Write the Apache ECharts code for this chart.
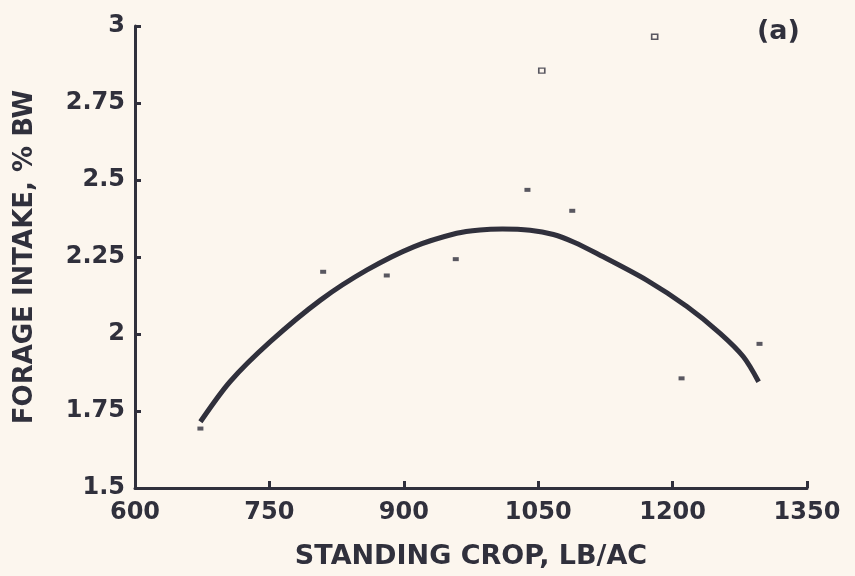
<!DOCTYPE html>
<html>
<head>
<meta charset="utf-8">
<script src="https://cdn.jsdelivr.net/npm/echarts@6/dist/echarts.min.js"></script>
<style>
html,body{margin:0;padding:0;background:#fcf6ee;}
#chart{width:855px;height:576px;}
</style>
</head>
<body>
<div id="chart"></div>
<script>
// Observed data (filled squares)
const filledX = [673, 810, 881, 958, 1038, 1088, 1210, 1297];
const filledY = [1.693, 2.202, 2.19, 2.243, 2.468, 2.40, 1.856, 1.968];
// Open squares
const openX = [1054, 1180];
const openY = [2.855, 2.965];
// Fitted curve
const curveX = [673, 706, 751, 807, 859, 911, 959, 985, 1010, 1041, 1067, 1090, 1115, 1171, 1216, 1253, 1279, 1296];
const curveY = [1.715, 1.845, 1.975, 2.110, 2.208, 2.283, 2.327, 2.338, 2.341, 2.337, 2.323, 2.298, 2.262, 2.175, 2.089, 2.002, 1.926, 1.845];
// Tick labels
const xTicks = ['600', '750', '900', '1050', '1200', '1350'];
const yTicks = ['1.5', '1.75', '2', '2.25', '2.5', '2.75', '3'];
const xTitle = 'STANDING CROP, LB/AC';
const yTitle = 'FORAGE INTAKE, % BW';
const panelLabel = '(a)';

const ink = '#30303c';
const font = 'DejaVu Sans';

const chart = echarts.init(document.getElementById('chart'));
chart.setOption({
  backgroundColor: '#fcf6ee',
  animation: false,
  grid: { left: 135, right: 48, top: 26, bottom: 88, containLabel: false },
  xAxis: {
    type: 'value', min: 600, max: 1350, interval: 150,
    name: xTitle, nameLocation: 'middle', nameGap: 55,
    nameTextStyle: { color: ink, fontFamily: font, fontSize: 27, fontWeight: 'bold' },
    axisLine: { lineStyle: { color: ink, width: 3 } },
    axisTick: { inside: true, length: 7, lineStyle: { color: ink, width: 3 } },
    axisLabel: { color: ink, fontFamily: font, fontSize: 24, fontWeight: 'bold', margin: 13,
      formatter: (v) => xTicks[Math.round((v - 600) / 150)] },
    splitLine: { show: false }
  },
  yAxis: {
    type: 'value', min: 1.5, max: 3, interval: 0.25,
    name: yTitle, nameLocation: 'middle', nameGap: 97, nameRotate: 90,
    nameTextStyle: { color: ink, fontFamily: font, fontSize: 26, fontWeight: 'bold' },
    axisLine: { lineStyle: { color: ink, width: 3 } },
    axisTick: { inside: true, length: 6, lineStyle: { color: ink, width: 3 } },
    axisLabel: { color: ink, fontFamily: font, fontSize: 24, fontWeight: 'bold', margin: 10,
      formatter: (v) => yTicks[Math.round((v - 1.5) / 0.25)] },
    splitLine: { show: false }
  },
  graphic: [{
    type: 'text', left: 757, top: 18,
    style: { text: panelLabel, fill: ink, font: 'bold 27px "DejaVu Sans"' }
  }],
  series: [
    {
      type: 'line', smooth: 0.3, showSymbol: false, symbol: 'none',
      data: curveX.map((x, i) => [x, curveY[i]]),
      lineStyle: { color: ink, width: 5 }
    },
    {
      type: 'scatter', symbol: 'rect', symbolSize: [6, 4],
      data: filledX.map((x, i) => [x, filledY[i]]),
      itemStyle: { color: ink }
    },
    {
      type: 'scatter', symbol: 'rect', symbolSize: [6, 5],
      data: openX.map((x, i) => [x, openY[i]]),
      itemStyle: { color: '#fcf6ee', borderColor: ink, borderWidth: 1.5 }
    }
  ]
});
</script>
</body>
</html>
